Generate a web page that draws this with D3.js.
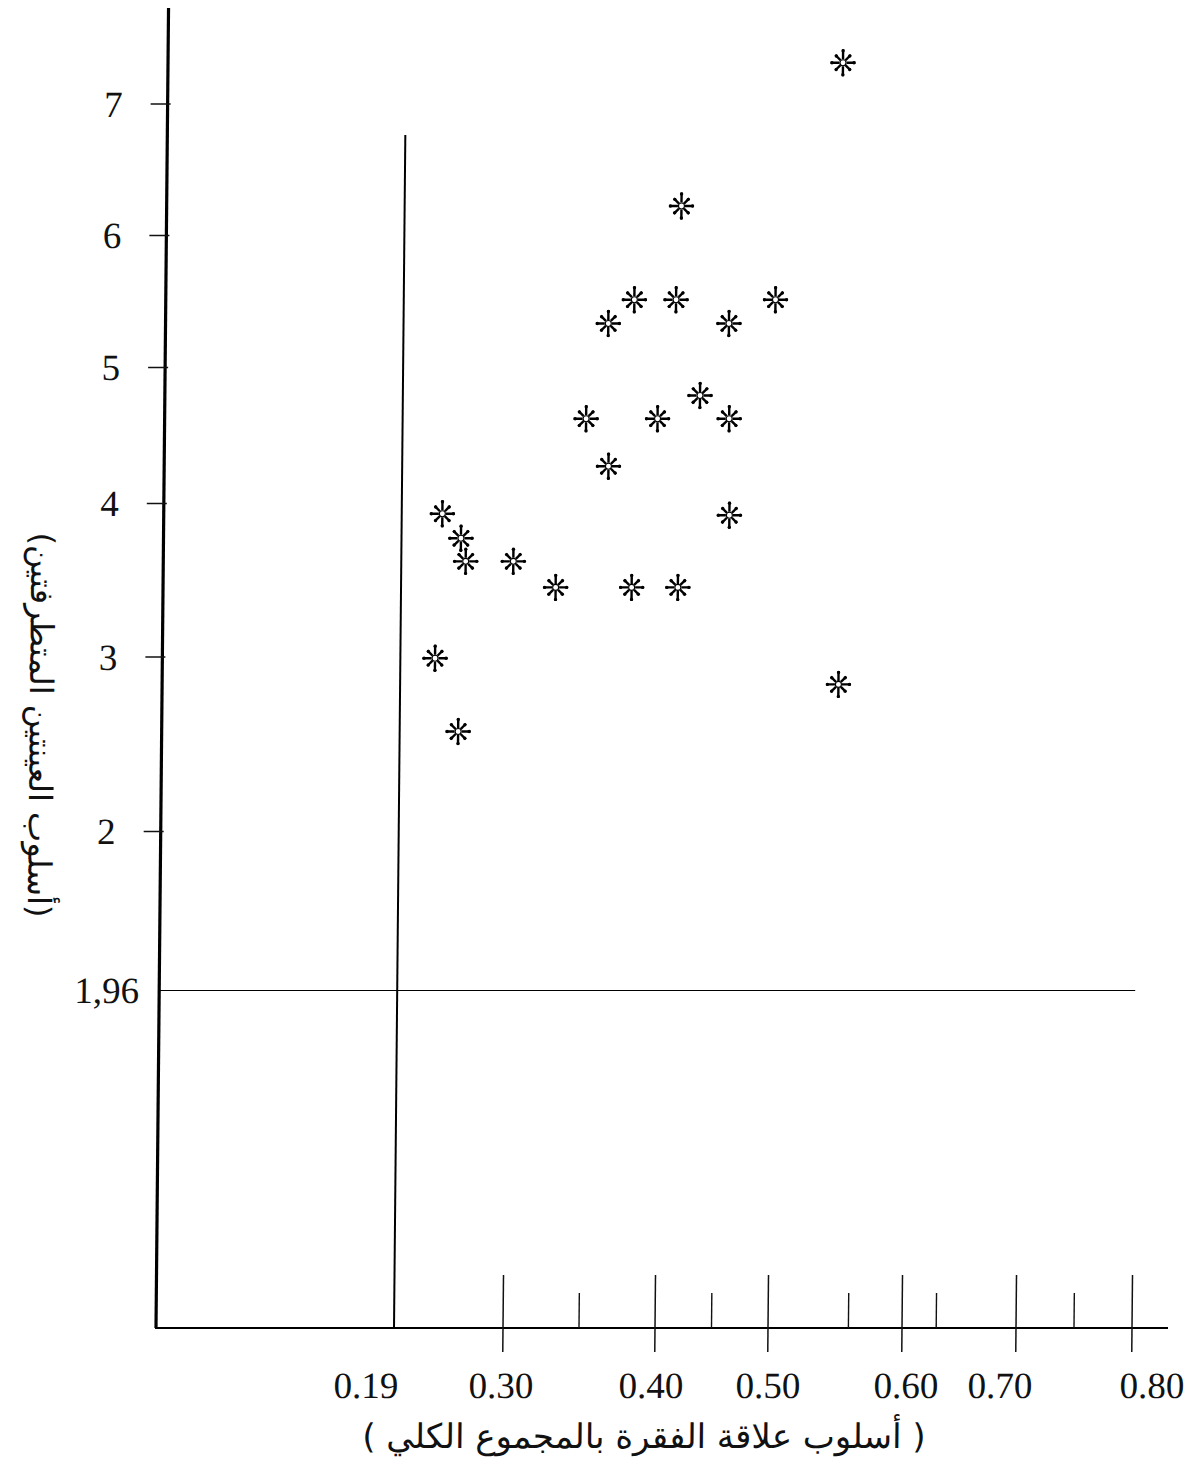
<!DOCTYPE html>
<html>
<head>
<meta charset="utf-8">
<script src="https://cdn.jsdelivr.net/npm/d3@7"></script>
<style>
  body { margin: 0; background: #fff; }
  .num { font-family: "Liberation Serif", serif; fill: #111; }
  .ar { font-family: "DejaVu Sans", sans-serif; fill: #111; }
</style>
</head>
<body>
<div id="chart"></div>
<script>
// ---- data ----
const xTickValues = [0.19, 0.30, 0.40, 0.50, 0.60, 0.70, 0.80];
const xTickLabels = ["0.19", "0.30", "0.40", "0.50", "0.60", "0.70", "0.80"];
const xMinorTicks = [0.35, 0.45, 0.56, 0.63, 0.75];
const yTickValues = [2, 3, 4, 5, 6, 7];
const yTickLabels = ["2", "3", "4", "5", "6", "7"];

const xCritical = 0.19;      // item-total correlation cut
const xCriticalTop = 6.76;   // where that line stops
const yCritical = 1.96;      // t cut
const yCriticalLabel = "1,96";

// item-total correlation (x) and extreme groups t (y), one per item
const itemTotal = [0.547, 0.414, 0.380, 0.410, 0.498, 0.363, 0.457, 0.432,
                   0.349, 0.396, 0.458, 0.364, 0.459, 0.231, 0.250, 0.255,
                   0.302, 0.330, 0.380, 0.414, 0.225, 0.249, 0.548];
const extremeT  = [7.31, 6.22, 5.51, 5.51, 5.51, 5.33, 5.33, 4.79,
                   4.62, 4.62, 4.62, 4.27, 3.92, 3.93, 3.77, 3.62,
                   3.62, 3.45, 3.45, 3.45, 2.99, 2.57, 2.84];

const xTitle = "( أسلوب علاقة الفقرة بالمجموع الكلي )";
const yTitle = "(أسلوب العينتين المتطرفتين)";

// ---- layout ----
const w = 1195, h = 1468;
const AX = 156;   // y axis position
const AY = 1328;  // x axis position

const points = itemTotal.map((v, i) => ({x: v, y: extremeT[i]}));

// the hand drawn axes are not evenly spaced, so piecewise scales
const x = d3.scaleLinear()
  .domain(xTickValues)
  .range([394, 503, 655, 768, 902, 1016, 1132]);
const y = d3.scaleLinear()
  .domain([yCritical].concat(yTickValues))
  .range([990.5, 831, 656.5, 503, 367, 235, 103.5]);

const svg = d3.select("#chart").append("svg")
  .attr("width", w)
  .attr("height", h);

// the scan leans a little to the right at the top
const g = svg.append("g")
  .attr("transform", "translate(0," + AY + ") skewX(-0.544) translate(0," + (-AY) + ")");

// axis lines
g.append("line")
  .attr("x1", AX).attr("x2", AX)
  .attr("y1", 8).attr("y2", AY)
  .attr("stroke", "#000").attr("stroke-width", 3.2);
g.append("line")
  .attr("x1", AX - 1).attr("x2", 1168)
  .attr("y1", AY).attr("y2", AY)
  .attr("stroke", "#000").attr("stroke-width", 2);

// y axis ticks + labels
const yAxis = d3.axisLeft(y)
  .tickValues(yTickValues)
  .tickSize(17)
  .tickPadding(28)
  .tickFormat((d, i) => yTickLabels[i]);
const yG = g.append("g")
  .attr("transform", "translate(" + AX + ",0)")
  .call(yAxis);
yG.select(".domain").remove();
yG.selectAll(".tick line").attr("x2", 3).attr("x1", -17).attr("stroke", "#111").attr("stroke-width", 1.4);
yG.selectAll("text")
  .attr("class", "num")
  .attr("font-size", 37)
  .attr("dy", "0.34em");

// x axis labels
const labelNudge = [-28, -2, -4, 0, 4, -16, 20];
const xAxis = d3.axisBottom(x)
  .tickValues(xTickValues)
  .tickSize(0)
  .tickFormat((d, i) => xTickLabels[i]);
const xG = g.append("g")
  .attr("transform", "translate(0," + AY + ")")
  .call(xAxis);
xG.select(".domain").remove();
xG.selectAll(".tick line").remove();
xG.selectAll("text")
  .attr("class", "num")
  .attr("font-size", 37)
  .attr("y", 44)
  .attr("dy", "0.71em")
  .attr("dx", (d, i) => labelNudge[i]);

// x major ticks cross the axis line; no tick at the cut value
g.selectAll(".major")
  .data(xTickValues.filter(d => d !== xCritical))
  .enter()
  .append("line")
  .attr("class", "major")
  .attr("x1", d => x(d)).attr("x2", d => x(d))
  .attr("y1", AY - 53).attr("y2", AY + 24)
  .attr("stroke", "#111").attr("stroke-width", 1.5);

// x axis minor ticks
g.selectAll(".minor")
  .data(xMinorTicks)
  .enter()
  .append("line")
  .attr("class", "minor")
  .attr("x1", d => x(d)).attr("x2", d => x(d))
  .attr("y1", AY - 35).attr("y2", AY)
  .attr("stroke", "#111").attr("stroke-width", 1.4);

// critical lines
g.append("line")
  .attr("x1", x(xCritical)).attr("x2", x(xCritical))
  .attr("y1", y(xCriticalTop)).attr("y2", AY)
  .attr("stroke", "#000").attr("stroke-width", 2);
g.append("line")
  .attr("x1", AX).attr("x2", x(0.80))
  .attr("y1", y(yCritical)).attr("y2", y(yCritical))
  .attr("stroke", "#000").attr("stroke-width", 1.1);
g.append("text")
  .attr("class", "num")
  .attr("font-size", 37)
  .attr("text-anchor", "end")
  .attr("x", AX - 20)
  .attr("y", y(yCritical))
  .attr("dy", "0.34em")
  .text(yCriticalLabel);

// asterisk markers: 8 spokes around a small open ring
const spokes = d3.range(8).map(k => {
  const a = k * Math.PI / 4;
  const len = (k % 4 === 0) ? 12.5 : (k % 2 === 0 ? 13.5 : 11);
  return {c: Math.cos(a), s: Math.sin(a), len: len};
});
const star = g.selectAll(".star")
  .data(points)
  .enter()
  .append("g")
  .attr("class", "star")
  .attr("transform", d => "translate(" + x(d.x) + "," + y(d.y) + ")");
star.selectAll("line")
  .data(spokes)
  .enter()
  .append("line")
  .attr("x1", s => s.c * 3.5).attr("y1", s => s.s * 3.5)
  .attr("x2", s => s.c * s.len).attr("y2", s => s.s * s.len)
  .attr("stroke", "#000").attr("stroke-width", 2.4);
star.selectAll(".tip")
  .data(spokes)
  .enter()
  .append("circle")
  .attr("class", "tip")
  .attr("cx", s => s.c * (s.len - 1.5)).attr("cy", s => s.s * (s.len - 1.5))
  .attr("r", 1.7)
  .attr("fill", "#000");
star.append("circle")
  .attr("r", 3)
  .attr("fill", "#fff")
  .attr("stroke", "#000")
  .attr("stroke-width", 1.1);

// axis titles
g.append("text")
  .attr("class", "ar")
  .attr("font-size", 34)
  .attr("text-anchor", "middle")
  .attr("x", 645)
  .attr("y", 1448)
  .text(xTitle);
g.append("text")
  .attr("class", "ar")
  .attr("font-size", 32)
  .attr("text-anchor", "middle")
  .attr("transform", "translate(24,725) rotate(90)")
  .text(yTitle);
</script>
</body>
</html>
